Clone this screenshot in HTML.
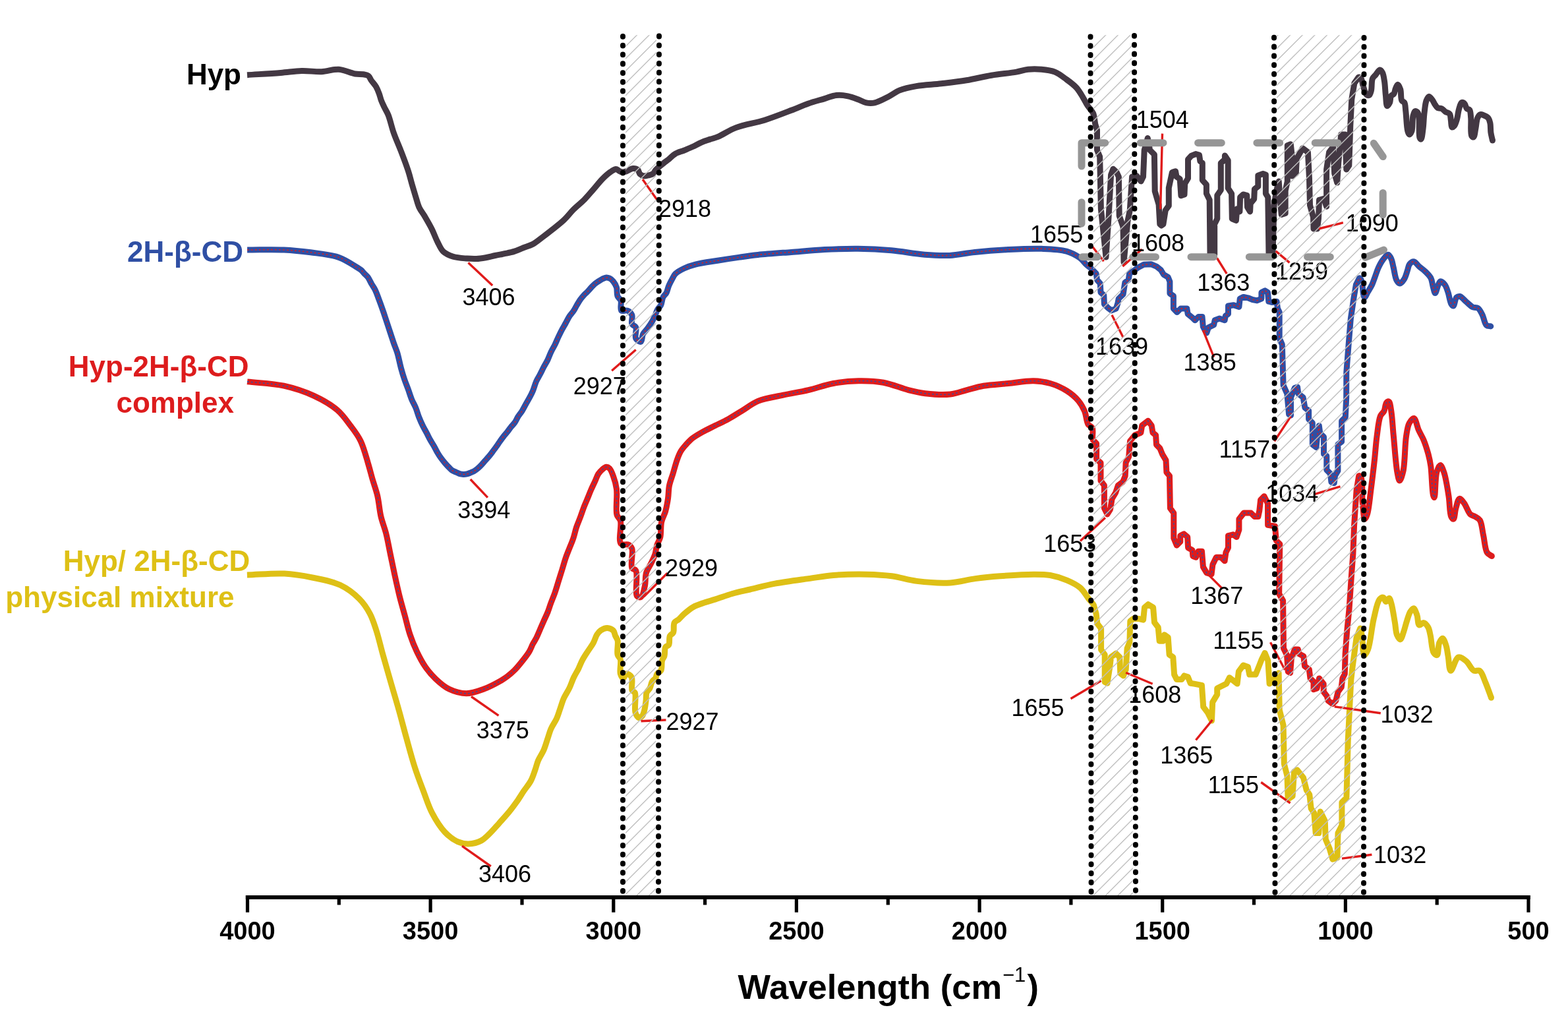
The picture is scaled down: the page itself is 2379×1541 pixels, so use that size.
<!DOCTYPE html><html><head><meta charset="utf-8"><title>FTIR spectra</title><style>html,body{margin:0;padding:0;background:#fff;}svg{display:block;}text{font-family:"Liberation Sans",Arial,sans-serif;}</style></head><body>
<svg xmlns="http://www.w3.org/2000/svg" width="2379" height="1541" viewBox="0 0 2379 1541">
<rect width="2379" height="1541" fill="#fff"/>
<path d="M375.0,113.7 C391.9,112.6 410.7,111.6 425.7,110.4 C437.6,109.5 447.2,107.8 457.7,107.5 C467.9,107.2 478.3,109.1 488.0,108.7 C497.0,108.3 505.5,104.7 514.0,105.3 C522.4,105.9 531.8,110.9 538.7,112.0 C543.5,112.8 547.6,112.2 551.2,112.8 C554.1,113.3 556.9,113.5 558.9,115.0 C560.8,116.4 561.4,119.1 563.0,121.5 C565.1,124.5 568.5,128.0 570.6,131.5 C572.6,135.0 574.1,138.9 575.4,142.5 C576.6,145.8 577.2,149.0 578.4,152.3 C579.7,155.8 581.4,159.1 583.1,162.7 C584.9,166.5 587.1,169.6 589.1,174.5 C592.0,181.6 594.2,192.8 597.4,201.8 C600.6,210.9 604.7,219.6 608.3,229.0 C612.1,238.9 616.6,250.6 619.5,259.7 C621.8,266.9 623.1,272.7 625.0,279.2 C626.9,285.7 628.9,292.5 630.8,298.7 C632.6,304.3 633.8,309.8 636.1,314.8 C638.3,319.5 641.4,323.1 644.3,327.9 C647.7,333.7 651.9,340.8 655.2,347.4 C658.4,353.8 660.7,360.9 663.8,366.8 C666.5,372.1 668.5,377.7 672.5,381.5 C676.5,385.2 682.0,387.5 687.6,389.3 C693.9,391.3 702.3,391.6 708.6,392.1 C713.8,392.5 718.1,392.7 722.8,392.5 C727.6,392.3 732.4,391.5 737.1,390.7 C741.9,389.9 746.6,388.5 751.4,387.5 C756.2,386.5 760.9,385.7 765.7,384.7 C770.5,383.7 775.3,382.9 780.0,381.4 C784.8,379.9 789.4,377.6 794.2,375.7 C798.9,373.9 803.9,372.8 808.5,370.3 C813.4,367.6 818.1,363.5 822.8,360.0 C827.4,356.6 831.5,353.4 836.4,349.5 C842.3,344.8 850.0,339.0 855.8,333.5 C861.1,328.5 864.9,323.0 870.0,317.9 C875.3,312.6 881.8,307.6 887.0,302.3 C892.0,297.2 896.2,291.9 900.8,286.7 C905.3,281.5 909.7,275.7 914.2,271.2 C918.1,267.3 922.2,263.6 925.9,261.0 C928.9,259.0 932.1,256.4 934.5,256.4 C936.3,256.4 937.4,258.2 939.0,259.0 C940.6,259.8 942.2,260.8 944.0,261.0 C945.9,261.2 947.9,260.6 950.2,259.9 C953.2,259.0 957.2,255.7 960.3,255.5 C962.9,255.3 965.9,256.0 967.7,257.5 C969.4,258.9 969.4,262.4 971.0,264.0 C972.6,265.5 975.0,266.6 977.1,266.9 C979.2,267.2 981.6,266.4 983.8,265.9 C986.1,265.3 988.7,265.0 990.5,263.6 C992.4,262.2 993.3,259.4 995.0,257.5 C996.7,255.7 998.6,254.2 1000.6,252.5 C1002.7,250.7 1005.0,248.9 1007.3,247.1 C1009.5,245.4 1011.6,243.9 1014.1,242.0 C1017.1,239.6 1020.3,235.9 1024.1,233.6 C1028.1,231.2 1033.1,230.0 1037.6,228.2 C1042.1,226.3 1046.6,224.5 1051.0,222.5 C1055.5,220.4 1059.9,217.7 1064.5,215.8 C1068.9,213.9 1073.7,212.6 1078.0,211.1 C1082.0,209.8 1084.9,209.3 1089.4,207.4 C1096.6,204.4 1106.3,197.5 1116.7,193.6 C1129.3,188.8 1145.9,186.6 1160.0,182.2 C1173.9,177.8 1188.7,171.9 1200.6,167.3 C1210.1,163.7 1217.4,160.2 1225.9,157.2 C1234.3,154.3 1243.5,151.9 1251.2,149.6 C1257.6,147.7 1262.9,145.1 1268.9,144.5 C1274.7,143.9 1281.0,144.7 1286.6,145.8 C1291.9,146.9 1297.0,149.0 1301.8,150.8 C1306.3,152.4 1310.2,155.1 1314.5,155.9 C1318.6,156.7 1322.5,156.9 1327.1,155.9 C1333.2,154.6 1340.9,150.2 1347.4,147.0 C1353.6,143.9 1358.5,139.6 1365.1,136.9 C1372.6,133.9 1381.1,132.2 1390.4,130.6 C1401.7,128.6 1415.7,128.3 1428.3,126.8 C1441.0,125.3 1453.7,123.9 1466.3,121.8 C1479.0,119.7 1491.6,116.3 1504.3,114.2 C1516.9,112.1 1532.0,110.9 1542.2,109.1 C1549.2,107.9 1553.8,106.0 1559.9,105.3 C1566.4,104.6 1573.5,104.7 1580.2,105.3 C1587.0,105.9 1594.1,106.6 1600.4,109.1 C1606.8,111.6 1612.5,116.4 1618.1,120.5 C1623.5,124.4 1629.0,128.4 1633.3,133.1 C1637.4,137.7 1640.5,143.5 1643.4,148.3 C1645.9,152.4 1647.6,156.2 1650.1,160.1 C1652.7,164.1 1656.6,167.4 1658.6,171.9 C1660.7,176.8 1660.7,184.1 1661.9,188.8 L1664.5,197.3 L1664.5,227.6 L1668.7,237.8 L1670.4,317.1 L1678.0,390.0 L1682.2,327.0 L1685.6,265.0 L1688.9,256.3 L1694.0,261.0 L1697.4,268.1 L1698.2,327.2 L1704.0,344.0 L1705.0,398.0 L1710.9,335.7 L1714.3,318.8 L1717.6,268.1 L1724.4,266.5 L1731.1,274.9 L1734.5,268.1 L1736.2,227.6 L1741.3,209.5 L1744.6,227.6 L1751.4,234.4 L1752.2,290.1 L1758.1,310.3 L1759.8,340.0 L1762.0,342.0 L1764.9,340.0 L1768.3,318.8 L1773.3,312.0 L1773.3,285.0 L1778.4,261.4 L1783.5,259.7 L1785.1,268.1 L1790.2,271.5 L1791.9,296.8 L1797.0,295.1 L1797.7,278.6 L1802.5,270.4 L1802.5,241.8 L1807.3,236.4 L1814.1,233.6 L1819.5,235.0 L1820.9,244.5 L1824.3,247.3 L1824.3,273.2 L1830.4,280.0 L1830.4,293.6 L1835.2,303.2 L1836.0,386.0 L1842.7,386.0 L1842.7,340.0 L1846.8,331.8 L1846.8,296.3 L1852.3,288.2 L1852.3,247.3 L1858.4,241.8 L1858.4,236.0 L1863.2,243.2 L1863.2,285.4 L1868.6,293.6 L1869.3,331.8 L1875.4,334.5 L1876.8,316.8 L1880.9,320.9 L1881.6,299.1 L1886.3,295.0 L1891.8,296.3 L1892.5,314.1 L1896.6,320.9 L1897.2,308.6 L1902.7,301.8 L1903.4,286.8 L1908.8,282.7 L1908.8,266.3 L1916.3,263.6 L1920.4,265.0 L1920.4,293.6 L1923.8,299.1 L1925.0,386.0 L1931.0,386.0 L1933.1,311.3 L1936.2,291.2 L1940.2,275.1 L1942.2,301.3 L1944.2,325.4 L1950.2,323.4 L1950.2,289.2 L1953.3,275.1 L1953.3,220.8 L1958.3,218.8 L1960.3,236.9 L1960.3,267.1 L1966.3,263.0 L1967.3,240.9 L1976.4,224.8 L1984.4,230.8 L1986.5,271.1 L1987.5,311.3 L1992.5,329.4 L1993.0,347.0 L1998.5,347.0 L2000.5,331.4 L2001.5,303.3 L2008.6,301.3 L2012.6,313.3 L2012.6,257.0 L2016.6,230.8 L2022.7,222.8 L2024.7,263.0 L2028.7,277.1 L2030.7,246.9 L2034.7,204.0 L2040.8,204.0 L2042.8,257.0 L2046.8,251.0 L2048.8,190.6 L2050.8,150.4 L2054.9,126.2 L2061.2,117.2 C2062.5,116.9 2064.1,118.0 2065.2,119.3 C2066.9,121.4 2066.9,126.6 2068.2,130.4 C2069.6,134.6 2071.1,141.6 2073.3,143.5 C2074.5,144.5 2076.2,145.0 2077.3,144.5 C2078.8,143.8 2079.6,140.4 2080.4,137.4 C2081.6,132.8 2080.6,123.6 2082.4,119.3 C2083.6,116.5 2085.6,115.3 2087.4,113.2 C2089.3,110.9 2091.7,106.2 2093.5,106.1 C2094.9,106.1 2096.4,108.2 2097.5,110.2 C2099.1,113.2 2099.7,118.3 2100.5,123.3 C2101.5,129.7 2101.7,138.8 2102.5,145.5 C2103.1,151.0 2103.1,160.2 2104.6,160.6 C2105.6,160.9 2107.6,157.7 2108.6,155.6 C2109.8,152.9 2109.2,147.7 2110.6,145.5 C2111.6,143.9 2113.6,144.0 2114.7,142.5 C2116.2,140.4 2116.5,135.9 2117.7,133.4 C2118.6,131.4 2119.6,128.3 2120.7,128.3 C2121.9,128.3 2123.7,132.4 2124.7,135.4 C2126.1,139.8 2125.0,149.3 2126.8,152.5 C2127.8,154.3 2129.8,153.9 2130.8,155.6 C2132.4,158.3 2132.1,163.4 2132.8,168.7 C2133.8,176.7 2134.1,193.3 2135.8,199.0 C2136.5,201.5 2137.4,203.9 2138.4,204.0 C2139.4,204.1 2141.0,201.4 2141.9,199.0 C2143.6,194.2 2142.6,181.2 2143.9,175.8 C2144.7,172.7 2145.5,169.2 2146.9,168.7 C2148.0,168.3 2150.0,169.4 2151.0,170.7 C2152.5,172.6 2152.5,176.6 2153.0,180.8 C2153.8,187.8 2152.3,205.1 2154.0,209.0 C2154.5,210.3 2155.4,211.3 2156.0,211.1 C2157.4,210.7 2158.2,201.6 2159.0,195.9 C2160.0,188.6 2160.1,178.4 2161.1,170.7 C2161.9,164.1 2162.4,156.8 2164.1,152.5 C2165.2,149.8 2166.6,146.7 2168.1,146.5 C2169.6,146.3 2171.7,149.6 2173.2,151.5 C2174.8,153.6 2175.8,156.5 2177.2,158.6 C2178.5,160.5 2179.5,162.6 2181.2,163.6 C2182.9,164.6 2185.4,163.8 2187.3,164.7 C2189.4,165.7 2191.2,168.3 2193.3,169.7 C2195.3,171.0 2198.0,170.9 2199.4,172.7 C2201.1,174.9 2200.8,179.4 2201.4,182.8 C2202.0,186.2 2201.6,192.2 2202.9,192.9 C2203.8,193.3 2205.4,192.1 2206.5,190.9 C2208.2,188.9 2209.4,184.6 2210.5,180.8 C2211.8,176.3 2212.2,170.2 2213.5,165.7 C2214.6,161.9 2215.7,156.5 2217.6,155.6 C2218.7,155.0 2220.4,155.7 2221.6,156.6 C2223.3,158.0 2223.9,163.0 2225.6,164.7 C2226.8,165.9 2228.7,165.4 2229.7,166.7 C2231.3,168.9 2231.2,173.9 2231.7,178.8 C2232.4,186.0 2230.6,202.2 2232.7,206.0 C2233.5,207.4 2234.9,208.3 2235.7,208.0 C2237.3,207.4 2237.8,200.3 2238.7,195.9 C2239.8,190.7 2240.1,182.7 2241.8,178.8 C2242.9,176.4 2244.2,174.3 2245.8,173.7 C2247.2,173.2 2249.0,174.0 2250.8,174.7 C2253.0,175.5 2256.2,176.8 2257.9,178.8 C2259.6,180.8 2260.2,183.7 2260.9,186.8 C2261.8,190.8 2261.3,196.5 2261.9,201.0 C2262.5,205.2 2263.6,209.1 2264.5,213.1" stroke="#433843" stroke-width="9.0" stroke-linejoin="round" stroke-linecap="butt" fill="none"/>
<path d="M375.1,379.0 C393.6,379.0 413.6,378.2 430.7,379.0 C445.3,379.7 457.5,381.0 471.2,382.8 C485.4,384.7 501.7,386.0 514.2,390.4 C524.8,394.1 536.1,402.1 541.9,405.6 C544.6,407.3 546.0,408.0 547.8,409.5 C549.6,411.0 551.0,413.0 552.7,414.8 C554.4,416.6 556.3,418.0 558.0,420.2 C560.1,423.1 562.0,427.5 563.9,430.9 C565.7,434.0 567.6,436.4 569.2,439.7 C571.2,443.7 572.8,448.5 574.6,453.3 C576.7,458.8 579.0,465.2 580.9,470.8 C582.7,475.9 584.1,480.3 585.8,485.4 C587.7,491.0 589.7,497.1 591.6,503.0 C593.5,508.8 595.5,514.9 597.4,520.5 C599.2,525.6 601.1,529.6 602.8,535.1 C604.9,541.9 606.5,551.3 608.5,558.5 C610.2,564.7 611.8,570.1 613.7,575.6 C615.5,580.8 617.6,585.7 619.4,590.8 C621.2,595.8 622.7,601.1 624.7,605.9 C626.6,610.4 629.0,614.2 630.8,618.6 C632.7,623.2 634.0,628.5 635.9,633.2 C637.7,637.8 639.8,642.4 641.8,646.5 C643.6,650.1 645.5,653.2 647.3,656.6 C649.2,660.1 650.9,663.9 652.8,667.3 C654.6,670.6 656.7,673.6 658.5,676.8 C660.4,680.1 662.1,683.8 664.0,687.0 C665.7,689.9 667.5,692.6 669.4,695.2 C671.2,697.7 673.1,700.0 675.0,702.2 C676.9,704.4 678.9,706.6 680.8,708.5 C682.6,710.3 684.2,712.2 686.1,713.5 C687.9,714.7 689.9,715.2 691.8,716.1 C693.7,716.9 695.6,718.1 697.5,718.6 C699.3,719.1 701.2,719.3 703.0,719.4 C704.9,719.5 706.8,719.3 708.6,718.9 C710.5,718.5 712.3,717.6 714.1,716.9 C715.9,716.1 717.8,715.4 719.6,714.4 C721.5,713.3 723.2,711.9 725.0,710.4 C726.9,708.7 728.9,706.7 730.7,704.8 C732.5,702.9 734.2,700.8 736.0,698.8 C737.9,696.7 739.9,694.5 741.8,692.3 C743.7,690.0 745.5,687.6 747.3,685.2 C749.1,682.7 751.0,680.3 752.8,677.7 C754.7,675.1 756.5,672.2 758.4,669.6 C760.2,667.0 762.0,664.5 763.9,662.1 C765.7,659.8 767.6,657.8 769.4,655.5 C771.3,653.1 773.1,650.4 775.0,648.0 C776.9,645.6 779.2,643.5 781.0,640.9 C782.9,638.2 784.2,634.8 786.0,631.9 C787.9,628.9 790.2,626.3 792.1,623.3 C794.1,620.1 795.8,616.6 797.6,613.3 C799.4,610.1 801.3,607.0 803.1,603.7 C804.9,600.4 806.6,597.4 808.2,593.6 C810.2,589.0 811.7,582.6 813.8,578.0 C815.5,574.2 817.6,571.3 819.4,567.8 C821.3,564.2 823.0,560.5 824.9,556.8 C826.8,553.1 829.2,549.5 831.0,545.7 C832.8,541.9 834.1,537.9 835.9,534.1 C837.7,530.2 840.1,526.5 842.0,522.6 C843.9,518.6 845.6,514.3 847.5,510.4 C849.3,506.6 851.1,502.9 853.0,499.4 C854.8,496.0 856.8,492.8 858.6,489.5 C860.5,486.2 862.1,482.5 864.1,479.5 C866.0,476.7 868.3,474.5 870.1,471.8 C872.0,469.0 873.4,465.9 875.1,463.0 C876.9,460.0 878.7,456.8 880.6,454.1 C882.4,451.7 884.2,449.6 886.1,447.5 C887.9,445.5 889.9,443.9 891.7,442.0 C893.6,440.0 895.3,437.9 897.2,435.9 C899.0,434.0 900.8,432.0 902.7,430.4 C904.5,428.9 906.4,427.8 908.2,426.6 C910.0,425.4 911.8,424.1 913.7,423.2 C915.6,422.3 917.9,421.1 919.8,421.0 C921.5,420.9 923.2,421.3 924.8,422.1 C926.7,423.0 928.7,424.6 930.3,426.6 C932.3,429.0 934.4,432.5 935.5,436.0 C936.7,439.9 935.5,445.7 936.9,449.2 C938.0,452.0 940.8,453.0 941.9,455.9 C943.3,459.8 940.4,468.9 942.8,471.1 C944.6,472.8 949.4,470.0 952.0,471.1 C954.7,472.2 957.6,474.9 958.8,477.8 C960.3,481.3 957.3,488.1 958.8,491.3 C959.9,493.7 963.5,493.8 964.7,496.4 C966.4,500.2 962.7,509.6 964.7,513.3 C966.2,516.0 970.5,519.0 972.3,518.3 C974.4,517.5 973.9,509.9 975.7,506.5 C977.4,503.3 980.2,501.1 982.4,498.1 C984.7,494.9 987.2,491.4 989.2,488.0 C991.1,484.7 992.7,481.1 994.2,477.8 C995.5,474.9 996.1,472.0 997.6,469.4 C999.0,466.9 1001.4,465.4 1002.7,462.7 C1004.3,459.4 1004.4,454.2 1006.0,450.9 C1007.3,448.2 1009.7,446.7 1011.1,444.1 C1012.6,441.2 1013.1,437.3 1014.5,434.0 C1015.9,430.6 1017.8,427.1 1019.5,423.9 C1021.1,420.9 1022.1,418.0 1024.6,415.4 C1027.8,412.2 1033.2,409.3 1038.1,407.0 C1043.3,404.5 1048.3,402.8 1055.0,401.1 C1064.2,398.7 1077.5,397.0 1088.7,395.2 C1099.9,393.4 1111.7,391.6 1122.4,390.1 C1132.1,388.7 1139.4,387.6 1150.0,386.5 C1164.3,385.0 1183.7,383.7 1200.6,382.4 C1217.5,381.1 1234.3,379.5 1251.2,378.6 C1268.1,377.8 1284.9,377.1 1301.8,377.3 C1318.7,377.5 1335.6,378.3 1352.4,379.8 C1369.3,381.3 1387.3,385.0 1403.0,386.2 C1416.5,387.3 1428.4,388.0 1441.0,387.4 C1453.7,386.8 1465.4,383.8 1479.0,382.4 C1494.6,380.8 1512.6,379.4 1529.5,378.6 C1546.4,377.7 1564.5,376.7 1580.2,377.3 C1593.8,377.8 1607.6,378.1 1618.1,381.1 C1626.2,383.4 1633.1,387.3 1638.4,391.2 C1642.6,394.3 1645.2,398.5 1648.2,401.3 C1650.6,403.5 1652.7,404.7 1655.0,406.8 L1663.2,415.0 L1664.5,424.5 L1669.3,430.0 L1670.0,443.6 L1674.8,447.7 L1675.4,461.3 L1680.9,466.8 L1686.3,470.9 L1693.2,468.1 L1695.9,460.0 L1697.2,453.1 L1704.1,446.3 L1706.8,428.6 L1712.2,424.5 L1713.6,415.0 L1721.8,409.5 L1727.2,405.4 L1735.4,401.3 L1746.3,400.7 L1754.5,404.1 L1761.3,409.5 L1765.4,416.3 L1772.2,420.4 L1774.9,427.2 L1774.9,445.0 L1780.4,449.0 L1780.4,468.1 L1785.8,473.6 L1791.3,468.1 L1800.8,468.1 L1802.2,476.3 L1809.0,481.8 L1813.1,485.8 L1818.5,480.4 L1824.0,480.4 L1825.3,495.4 L1828.1,500.8 L1830.8,504.9 L1833.5,496.7 L1841.7,492.7 L1843.1,485.8 L1849.9,483.1 L1858.1,485.8 L1859.4,479.0 L1863.5,476.3 L1863.5,464.0 L1871.7,462.7 L1879.9,465.4 L1881.2,453.1 L1886.7,450.4 L1893.5,451.8 L1900.3,454.5 L1907.1,455.9 L1913.9,453.1 L1913.9,443.6 L1919.4,440.9 L1923.5,443.6 L1924.8,457.2 L1930.3,458.6 L1937.1,457.2 L1938.5,468.1 L1941.2,473.6 L1941.2,513.1 L1945.3,522.6 L1947.1,584.3 L1952.8,597.1 L1955.6,628.5 L1958.5,630.0 L1958.5,602.8 L1964.2,588.6 L1968.5,587.1 L1969.9,597.1 L1977.1,602.8 L1979.9,618.5 L1985.6,622.8 L1985.6,635.7 L1991.3,641.4 L1991.3,674.2 L1997.0,678.5 L1998.5,662.8 L2001.3,645.7 L2002.8,657.1 L2008.5,662.8 L2008.5,688.5 L2012.8,691.4 L2012.8,712.8 L2018.5,718.5 L2019.9,731.3 L2024.2,732.8 L2025.6,721.3 L2029.9,714.2 L2029.9,674.2 L2035.6,669.9 L2035.6,638.5 L2041.3,632.8 L2042.7,602.8 L2042.8,564.7 L2046.0,524.1 L2049.3,483.6 L2054.1,451.1 L2057.4,431.7 L2062.3,421.9 C2063.4,421.7 2064.6,423.4 2065.5,425.2 C2067.5,429.2 2067.5,443.8 2068.8,447.9 C2069.3,449.5 2069.7,451.1 2070.4,451.1 C2071.5,451.1 2073.5,445.9 2075.2,443.0 C2077.2,439.6 2079.8,435.7 2081.7,431.7 C2083.6,427.6 2085.0,423.0 2086.6,418.7 C2088.2,414.4 2089.6,409.8 2091.5,405.7 C2093.4,401.7 2095.5,397.6 2098.0,394.3 C2100.4,391.2 2103.8,386.0 2106.1,386.2 C2108.0,386.3 2109.6,390.0 2110.9,392.7 C2112.5,396.2 2113.0,400.9 2114.2,405.7 C2115.7,411.5 2116.6,421.1 2119.0,425.2 C2120.4,427.6 2122.2,430.0 2123.9,430.0 C2125.9,430.0 2128.6,426.3 2130.4,423.5 C2132.6,420.1 2133.9,414.6 2135.3,410.6 C2136.5,407.1 2136.7,403.1 2138.5,400.8 C2140.1,398.8 2142.8,396.6 2145.0,396.8 C2147.6,397.0 2150.2,401.6 2153.1,404.1 C2156.2,406.8 2159.9,409.2 2162.9,412.2 C2165.9,415.2 2169.1,418.2 2171.0,421.9 C2172.9,425.7 2173.0,430.9 2174.2,434.9 C2175.2,438.4 2176.3,444.6 2177.5,444.6 C2178.9,444.6 2180.7,434.9 2182.3,431.7 C2183.4,429.6 2184.2,427.0 2185.6,426.8 C2187.3,426.5 2190.3,429.4 2192.1,431.7 C2194.3,434.5 2195.4,438.7 2196.9,443.0 C2198.7,448.2 2199.8,457.5 2201.8,460.9 C2202.8,462.6 2204.0,464.3 2205.0,464.1 C2206.8,463.7 2207.6,453.3 2209.9,451.1 C2211.3,449.8 2213.0,449.2 2214.8,449.5 C2217.6,450.0 2221.3,454.9 2224.5,457.6 C2227.8,460.3 2231.0,464.1 2234.3,465.7 C2237.0,467.0 2240.1,465.8 2242.4,467.4 C2245.1,469.2 2246.9,473.3 2248.9,477.1 C2251.3,481.7 2252.3,490.7 2255.3,493.3 C2257.1,494.9 2259.6,494.4 2261.8,494.9" stroke="#2F4FA4" stroke-width="9.0" stroke-linejoin="round" stroke-linecap="butt" fill="none"/>
<path d="M375.1,379.0 C393.6,379.0 413.6,378.2 430.7,379.0 C445.3,379.7 457.5,381.0 471.2,382.8 C485.4,384.7 501.7,386.0 514.2,390.4 C524.8,394.1 536.1,402.1 541.9,405.6 C544.6,407.3 546.0,408.0 547.8,409.5 C549.6,411.0 551.0,413.0 552.7,414.8 C554.4,416.6 556.3,418.0 558.0,420.2 C560.1,423.1 562.0,427.5 563.9,430.9 C565.7,434.0 567.6,436.4 569.2,439.7 C571.2,443.7 572.8,448.5 574.6,453.3 C576.7,458.8 579.0,465.2 580.9,470.8 C582.7,475.9 584.1,480.3 585.8,485.4 C587.7,491.0 589.7,497.1 591.6,503.0 C593.5,508.8 595.5,514.9 597.4,520.5 C599.2,525.6 601.1,529.6 602.8,535.1 C604.9,541.9 606.5,551.3 608.5,558.5 C610.2,564.7 611.8,570.1 613.7,575.6 C615.5,580.8 617.6,585.7 619.4,590.8 C621.2,595.8 622.7,601.1 624.7,605.9 C626.6,610.4 629.0,614.2 630.8,618.6 C632.7,623.2 634.0,628.5 635.9,633.2 C637.7,637.8 639.8,642.4 641.8,646.5 C643.6,650.1 645.5,653.2 647.3,656.6 C649.2,660.1 650.9,663.9 652.8,667.3 C654.6,670.6 656.7,673.6 658.5,676.8 C660.4,680.1 662.1,683.8 664.0,687.0 C665.7,689.9 667.5,692.6 669.4,695.2 C671.2,697.7 673.1,700.0 675.0,702.2 C676.9,704.4 678.9,706.6 680.8,708.5 C682.6,710.3 684.2,712.2 686.1,713.5 C687.9,714.7 689.9,715.2 691.8,716.1 C693.7,716.9 695.6,718.1 697.5,718.6 C699.3,719.1 701.2,719.3 703.0,719.4 C704.9,719.5 706.8,719.3 708.6,718.9 C710.5,718.5 712.3,717.6 714.1,716.9 C715.9,716.1 717.8,715.4 719.6,714.4 C721.5,713.3 723.2,711.9 725.0,710.4 C726.9,708.7 728.9,706.7 730.7,704.8 C732.5,702.9 734.2,700.8 736.0,698.8 C737.9,696.7 739.9,694.5 741.8,692.3 C743.7,690.0 745.5,687.6 747.3,685.2 C749.1,682.7 751.0,680.3 752.8,677.7 C754.7,675.1 756.5,672.2 758.4,669.6 C760.2,667.0 762.0,664.5 763.9,662.1 C765.7,659.8 767.6,657.8 769.4,655.5 C771.3,653.1 773.1,650.4 775.0,648.0 C776.9,645.6 779.2,643.5 781.0,640.9 C782.9,638.2 784.2,634.8 786.0,631.9 C787.9,628.9 790.2,626.3 792.1,623.3 C794.1,620.1 795.8,616.6 797.6,613.3 C799.4,610.1 801.3,607.0 803.1,603.7 C804.9,600.4 806.6,597.4 808.2,593.6 C810.2,589.0 811.7,582.6 813.8,578.0 C815.5,574.2 817.6,571.3 819.4,567.8 C821.3,564.2 823.0,560.5 824.9,556.8 C826.8,553.1 829.2,549.5 831.0,545.7 C832.8,541.9 834.1,537.9 835.9,534.1 C837.7,530.2 840.1,526.5 842.0,522.6 C843.9,518.6 845.6,514.3 847.5,510.4 C849.3,506.6 851.1,502.9 853.0,499.4 C854.8,496.0 856.8,492.8 858.6,489.5 C860.5,486.2 862.1,482.5 864.1,479.5 C866.0,476.7 868.3,474.5 870.1,471.8 C872.0,469.0 873.4,465.9 875.1,463.0 C876.9,460.0 878.7,456.8 880.6,454.1 C882.4,451.7 884.2,449.6 886.1,447.5 C887.9,445.5 889.9,443.9 891.7,442.0 C893.6,440.0 895.3,437.9 897.2,435.9 C899.0,434.0 900.8,432.0 902.7,430.4 C904.5,428.9 906.4,427.8 908.2,426.6 C910.0,425.4 911.8,424.1 913.7,423.2 C915.6,422.3 917.9,421.1 919.8,421.0 C921.5,420.9 923.2,421.3 924.8,422.1 C926.7,423.0 928.7,424.6 930.3,426.6 C932.3,429.0 934.4,432.5 935.5,436.0 C936.7,439.9 935.5,445.7 936.9,449.2 C938.0,452.0 940.8,453.0 941.9,455.9 C943.3,459.8 940.4,468.9 942.8,471.1 C944.6,472.8 949.4,470.0 952.0,471.1 C954.7,472.2 957.6,474.9 958.8,477.8 C960.3,481.3 957.3,488.1 958.8,491.3 C959.9,493.7 963.5,493.8 964.7,496.4 C966.4,500.2 962.7,509.6 964.7,513.3 C966.2,516.0 970.5,519.0 972.3,518.3 C974.4,517.5 973.9,509.9 975.7,506.5 C977.4,503.3 980.2,501.1 982.4,498.1 C984.7,494.9 987.2,491.4 989.2,488.0 C991.1,484.7 992.7,481.1 994.2,477.8 C995.5,474.9 996.1,472.0 997.6,469.4 C999.0,466.9 1001.4,465.4 1002.7,462.7 C1004.3,459.4 1004.4,454.2 1006.0,450.9 C1007.3,448.2 1009.7,446.7 1011.1,444.1 C1012.6,441.2 1013.1,437.3 1014.5,434.0 C1015.9,430.6 1017.8,427.1 1019.5,423.9 C1021.1,420.9 1022.1,418.0 1024.6,415.4 C1027.8,412.2 1033.2,409.3 1038.1,407.0 C1043.3,404.5 1048.3,402.8 1055.0,401.1 C1064.2,398.7 1077.5,397.0 1088.7,395.2 C1099.9,393.4 1111.7,391.6 1122.4,390.1 C1132.1,388.7 1139.4,387.6 1150.0,386.5 C1164.3,385.0 1183.7,383.7 1200.6,382.4 C1217.5,381.1 1234.3,379.5 1251.2,378.6 C1268.1,377.8 1284.9,377.1 1301.8,377.3 C1318.7,377.5 1335.6,378.3 1352.4,379.8 C1369.3,381.3 1387.3,385.0 1403.0,386.2 C1416.5,387.3 1428.4,388.0 1441.0,387.4 C1453.7,386.8 1465.4,383.8 1479.0,382.4 C1494.6,380.8 1512.6,379.4 1529.5,378.6 C1546.4,377.7 1564.5,376.7 1580.2,377.3 C1593.8,377.8 1607.6,378.1 1618.1,381.1 C1626.2,383.4 1633.1,387.3 1638.4,391.2 C1642.6,394.3 1645.2,398.5 1648.2,401.3 C1650.6,403.5 1652.7,404.7 1655.0,406.8 L1663.2,415.0 L1664.5,424.5 L1669.3,430.0 L1670.0,443.6 L1674.8,447.7 L1675.4,461.3 L1680.9,466.8 L1686.3,470.9 L1693.2,468.1 L1695.9,460.0 L1697.2,453.1 L1704.1,446.3 L1706.8,428.6 L1712.2,424.5 L1713.6,415.0 L1721.8,409.5 L1727.2,405.4 L1735.4,401.3 L1746.3,400.7 L1754.5,404.1 L1761.3,409.5 L1765.4,416.3 L1772.2,420.4 L1774.9,427.2 L1774.9,445.0 L1780.4,449.0 L1780.4,468.1 L1785.8,473.6 L1791.3,468.1 L1800.8,468.1 L1802.2,476.3 L1809.0,481.8 L1813.1,485.8 L1818.5,480.4 L1824.0,480.4 L1825.3,495.4 L1828.1,500.8 L1830.8,504.9 L1833.5,496.7 L1841.7,492.7 L1843.1,485.8 L1849.9,483.1 L1858.1,485.8 L1859.4,479.0 L1863.5,476.3 L1863.5,464.0 L1871.7,462.7 L1879.9,465.4 L1881.2,453.1 L1886.7,450.4 L1893.5,451.8 L1900.3,454.5 L1907.1,455.9 L1913.9,453.1 L1913.9,443.6 L1919.4,440.9 L1923.5,443.6 L1924.8,457.2 L1930.3,458.6 L1937.1,457.2 L1938.5,468.1 L1941.2,473.6 L1941.2,513.1 L1945.3,522.6 L1947.1,584.3 L1952.8,597.1 L1955.6,628.5 L1958.5,630.0 L1958.5,602.8 L1964.2,588.6 L1968.5,587.1 L1969.9,597.1 L1977.1,602.8 L1979.9,618.5 L1985.6,622.8 L1985.6,635.7 L1991.3,641.4 L1991.3,674.2 L1997.0,678.5 L1998.5,662.8 L2001.3,645.7 L2002.8,657.1 L2008.5,662.8 L2008.5,688.5 L2012.8,691.4 L2012.8,712.8 L2018.5,718.5 L2019.9,731.3 L2024.2,732.8 L2025.6,721.3 L2029.9,714.2 L2029.9,674.2 L2035.6,669.9 L2035.6,638.5 L2041.3,632.8 L2042.7,602.8 L2042.8,564.7 L2046.0,524.1 L2049.3,483.6 L2054.1,451.1 L2057.4,431.7 L2062.3,421.9 C2063.4,421.7 2064.6,423.4 2065.5,425.2 C2067.5,429.2 2067.5,443.8 2068.8,447.9 C2069.3,449.5 2069.7,451.1 2070.4,451.1 C2071.5,451.1 2073.5,445.9 2075.2,443.0 C2077.2,439.6 2079.8,435.7 2081.7,431.7 C2083.6,427.6 2085.0,423.0 2086.6,418.7 C2088.2,414.4 2089.6,409.8 2091.5,405.7 C2093.4,401.7 2095.5,397.6 2098.0,394.3 C2100.4,391.2 2103.8,386.0 2106.1,386.2 C2108.0,386.3 2109.6,390.0 2110.9,392.7 C2112.5,396.2 2113.0,400.9 2114.2,405.7 C2115.7,411.5 2116.6,421.1 2119.0,425.2 C2120.4,427.6 2122.2,430.0 2123.9,430.0 C2125.9,430.0 2128.6,426.3 2130.4,423.5 C2132.6,420.1 2133.9,414.6 2135.3,410.6 C2136.5,407.1 2136.7,403.1 2138.5,400.8 C2140.1,398.8 2142.8,396.6 2145.0,396.8 C2147.6,397.0 2150.2,401.6 2153.1,404.1 C2156.2,406.8 2159.9,409.2 2162.9,412.2 C2165.9,415.2 2169.1,418.2 2171.0,421.9 C2172.9,425.7 2173.0,430.9 2174.2,434.9 C2175.2,438.4 2176.3,444.6 2177.5,444.6 C2178.9,444.6 2180.7,434.9 2182.3,431.7 C2183.4,429.6 2184.2,427.0 2185.6,426.8 C2187.3,426.5 2190.3,429.4 2192.1,431.7 C2194.3,434.5 2195.4,438.7 2196.9,443.0 C2198.7,448.2 2199.8,457.5 2201.8,460.9 C2202.8,462.6 2204.0,464.3 2205.0,464.1 C2206.8,463.7 2207.6,453.3 2209.9,451.1 C2211.3,449.8 2213.0,449.2 2214.8,449.5 C2217.6,450.0 2221.3,454.9 2224.5,457.6 C2227.8,460.3 2231.0,464.1 2234.3,465.7 C2237.0,467.0 2240.1,465.8 2242.4,467.4 C2245.1,469.2 2246.9,473.3 2248.9,477.1 C2251.3,481.7 2252.3,490.7 2255.3,493.3 C2257.1,494.9 2259.6,494.4 2261.8,494.9" stroke="#DD1C1D" stroke-width="1.6" stroke-dasharray="2.5 3.5" fill="none"/>
<path d="M375.1,578.9 C393.6,581.0 413.3,581.4 430.7,585.2 C446.9,588.8 462.4,594.0 476.3,600.4 C489.2,606.4 502.1,613.7 511.7,621.9 C520.1,629.1 525.9,637.8 532.0,645.9 C537.7,653.4 542.9,660.0 547.1,668.7 C551.9,678.6 555.3,692.3 558.4,702.6 C561.0,711.1 562.6,718.0 564.9,726.0 C567.3,734.4 570.6,742.8 572.7,751.9 C575.0,761.7 575.6,773.3 577.9,783.1 C580.0,792.2 583.4,799.9 585.7,809.0 C588.2,818.9 590.0,829.8 592.2,840.2 C594.4,850.6 596.4,860.7 598.7,871.3 C601.1,882.3 603.7,894.3 606.4,905.1 C608.9,915.0 611.6,924.1 614.2,933.6 C616.8,943.1 618.9,953.0 622.0,962.2 C625.0,971.2 628.4,979.9 632.4,988.2 C636.3,996.3 640.5,1004.4 645.4,1011.5 C650.1,1018.2 655.1,1024.2 661.0,1029.7 C667.1,1035.5 674.0,1041.6 681.7,1045.3 C689.5,1049.0 699.0,1051.8 707.7,1051.8 C716.3,1051.8 725.1,1048.4 733.6,1045.3 C742.4,1042.1 753.1,1036.3 759.6,1032.6 C763.8,1030.2 766.3,1028.5 769.6,1026.0 C773.3,1023.2 777.1,1020.0 780.7,1016.4 C784.5,1012.6 788.1,1008.1 791.7,1003.6 C795.5,998.9 799.9,993.4 802.8,988.6 C805.2,984.6 806.5,980.5 808.4,976.8 C810.2,973.4 812.1,970.8 813.9,967.3 C815.9,963.3 817.7,958.5 819.6,954.2 C821.4,950.0 823.1,946.0 825.0,941.8 C826.9,937.4 829.2,933.0 831.0,928.5 C832.8,923.9 834.1,919.3 835.9,914.5 C837.8,909.4 840.0,904.3 841.9,898.9 C843.9,893.3 845.6,887.2 847.4,881.4 C849.2,875.7 850.9,870.2 852.7,864.5 C854.5,858.6 856.2,852.3 858.1,846.7 C859.8,841.6 861.7,837.2 863.6,832.3 C865.6,827.2 867.9,822.3 869.7,816.9 C871.6,811.3 872.8,804.9 874.7,799.3 C876.5,793.9 878.8,789.0 880.7,783.8 C882.6,778.7 884.3,773.3 886.2,768.4 C888.0,763.8 890.0,759.4 891.8,755.1 C893.5,751.0 894.9,747.1 896.7,743.0 C898.6,738.7 900.9,734.0 902.8,729.8 C904.6,725.9 905.8,721.8 907.8,718.7 C909.5,716.1 911.7,713.9 913.8,712.1 C915.7,710.5 917.9,708.4 919.9,708.3 C921.6,708.2 923.3,709.1 924.8,710.5 C927.1,712.7 928.8,717.6 930.4,722.1 C932.5,727.8 934.5,734.2 935.5,742.0 C936.9,752.8 933.7,772.8 936.0,781.0 C937.2,785.3 940.2,785.8 941.4,790.0 C943.6,797.6 937.7,819.5 942.0,824.5 C944.6,827.5 951.2,824.7 954.1,826.4 C956.4,827.7 957.8,829.3 958.9,832.3 C961.0,838.1 956.2,856.5 958.9,861.5 C960.2,864.0 963.3,862.8 964.8,865.4 C968.2,871.4 962.9,900.0 966.7,904.3 C968.2,906.0 970.9,906.3 972.6,905.3 C975.4,903.6 977.1,894.5 978.4,888.7 C979.8,882.6 978.7,875.3 980.4,869.3 C982.0,863.7 985.9,858.8 988.2,853.7 C990.4,849.0 992.5,844.7 994.0,840.1 C995.4,835.6 995.5,830.7 996.9,826.4 C998.2,822.3 1000.7,819.4 1001.8,814.7 C1003.3,808.4 1002.1,798.3 1003.7,791.4 C1005.0,785.6 1008.0,781.4 1009.6,775.8 C1011.3,769.7 1012.5,762.8 1013.5,756.3 C1014.5,749.8 1014.1,743.2 1015.4,736.8 C1016.7,730.3 1019.4,723.9 1021.3,717.4 C1023.3,710.9 1025.0,703.8 1027.1,697.9 C1028.9,692.9 1030.6,688.3 1033.0,684.3 C1035.2,680.6 1037.9,677.7 1040.7,674.5 C1043.7,671.2 1046.7,667.8 1050.5,664.8 C1054.9,661.3 1060.5,658.2 1066.0,655.1 C1072.1,651.7 1079.0,648.6 1085.5,645.3 C1092.0,642.1 1098.5,639.2 1105.0,635.6 C1111.8,631.9 1118.2,627.6 1125.3,623.3 C1133.3,618.5 1141.0,612.0 1150.6,608.1 C1161.7,603.6 1175.9,602.0 1188.6,599.2 C1201.2,596.5 1213.9,594.5 1226.5,591.6 C1239.2,588.6 1251.7,583.8 1264.5,581.5 C1277.1,579.2 1289.7,577.9 1302.4,577.7 C1315.0,577.5 1327.9,577.9 1340.4,580.2 C1353.2,582.5 1366.9,588.7 1378.3,591.6 C1387.5,593.9 1394.3,595.6 1403.6,596.7 C1414.9,598.0 1430.3,599.2 1441.6,598.0 C1451.0,597.0 1458.5,593.7 1466.9,591.6 C1475.3,589.5 1482.8,586.9 1492.2,585.3 C1503.5,583.3 1517.5,582.8 1530.2,581.5 C1542.8,580.2 1556.8,577.4 1568.1,577.7 C1577.4,577.9 1585.1,579.1 1593.4,581.5 C1602.0,584.0 1611.3,588.2 1618.7,592.9 C1625.5,597.2 1631.8,602.6 1636.4,608.1 C1640.4,612.9 1643.1,617.9 1645.5,623.6 C1648.1,629.7 1648.2,639.2 1650.9,643.6 C1652.6,646.4 1655.9,646.3 1657.3,649.1 C1659.3,653.1 1656.4,663.1 1658.2,667.2 L1663.6,672.7 L1663.6,696.3 L1670.0,701.8 L1670.0,729.0 L1675.4,736.3 L1675.4,770.8 L1680.0,779.9 L1684.5,772.6 L1687.2,756.3 L1692.7,747.2 L1696.3,736.3 L1703.6,730.8 L1707.2,721.8 L1708.1,701.8 L1712.7,692.7 L1714.5,669.1 L1721.8,660.0 L1730.9,656.3 L1732.7,645.4 L1741.8,638.2 L1747.2,645.4 L1749.0,656.3 L1753.6,660.0 L1754.5,674.5 L1759.9,680.0 L1763.6,689.1 L1769.0,698.1 L1769.9,716.3 L1774.5,721.8 L1775.4,770.8 L1780.8,778.1 L1780.8,816.3 L1785.4,827.2 L1790.8,821.7 L1790.8,812.6 L1796.3,809.9 L1801.7,814.4 L1802.6,830.8 L1809.0,834.4 L1809.9,843.5 L1814.5,845.3 L1818.1,836.3 L1823.5,836.3 L1825.4,859.9 L1830.8,869.0 L1838.1,870.8 L1839.9,856.2 L1845.3,845.3 L1852.6,845.3 L1858.1,850.8 L1859.9,838.1 L1863.5,830.8 L1863.5,812.6 L1870.8,810.8 L1876.2,814.4 L1879.9,803.5 L1879.9,787.2 L1887.1,778.1 L1898.0,778.1 L1903.5,783.5 L1908.9,783.5 L1910.8,774.5 L1912.6,758.1 L1918.0,752.7 L1923.5,763.6 L1923.6,796.2 L1934.5,798.1 L1936.3,819.9 L1941.8,825.3 L1940.7,900.7 L1946.6,910.9 L1947.5,983.4 L1952.5,993.5 L1954.2,1018.8 L1957.6,1020.5 L1959.3,998.6 L1964.3,985.1 L1969.4,985.1 L1971.1,991.8 L1977.8,995.2 L1979.5,1010.4 L1986.3,1015.4 L1988.0,1028.9 L1993.0,1034.0 L1993.0,1045.8 L1998.1,1044.1 L2001.5,1028.9 L2008.2,1037.4 L2008.2,1049.2 L2013.3,1055.9 L2015.0,1062.7 L2021.7,1067.7 L2026.8,1062.7 L2030.1,1049.2 L2035.2,1042.4 L2036.9,1028.9 L2040.3,1022.2 L2041.1,991.8 L2043.6,958.1 L2047.0,924.3 L2048.7,899.0 L2050.4,873.7 L2052.9,840.0 L2054.5,798.1 L2058.1,743.5 L2061.7,721.7 C2062.7,721.4 2064.4,723.2 2065.4,725.4 C2067.9,731.1 2066.2,750.7 2067.2,761.7 C2068.1,771.0 2069.0,786.9 2070.8,787.2 C2071.8,787.4 2073.4,783.4 2074.5,779.9 C2076.9,772.5 2078.2,756.3 2079.9,743.5 C2081.8,729.2 2083.8,712.4 2085.4,698.1 C2086.8,685.3 2087.4,673.4 2089.0,661.8 C2090.5,651.1 2091.6,637.4 2094.4,630.9 C2095.9,627.4 2098.4,626.5 2099.9,623.6 C2101.6,620.1 2101.7,613.1 2103.5,610.9 C2104.5,609.7 2106.2,608.6 2107.2,609.1 C2109.2,610.0 2109.8,617.6 2110.8,623.6 C2112.4,633.3 2113.0,647.9 2114.4,661.8 C2116.0,678.4 2117.7,704.5 2119.9,716.3 C2121.0,722.1 2122.1,728.9 2123.5,729.0 C2125.1,729.1 2127.5,721.0 2129.0,714.5 C2131.7,702.5 2131.4,675.1 2133.5,661.8 C2134.8,653.5 2135.5,646.6 2138.1,641.8 C2140.0,638.4 2143.2,634.1 2145.3,634.5 C2148.2,635.1 2150.0,647.0 2152.6,652.7 C2154.9,657.9 2157.7,661.8 2159.9,667.2 C2162.6,673.6 2165.2,682.0 2167.1,689.0 C2168.8,695.3 2169.7,699.8 2170.8,707.2 C2172.4,718.6 2172.6,744.3 2174.4,750.8 C2174.9,752.8 2175.7,754.6 2176.2,754.5 C2177.9,754.2 2177.3,725.0 2179.8,716.3 C2181.2,711.4 2183.5,705.4 2185.3,705.4 C2187.1,705.4 2189.1,711.5 2190.8,716.3 C2193.7,724.7 2196.2,741.0 2198.0,752.6 C2199.7,763.3 2199.2,778.4 2201.7,783.5 C2202.7,785.6 2204.3,787.5 2205.3,787.2 C2207.1,786.7 2207.3,776.0 2208.9,770.8 C2210.4,765.8 2211.9,756.8 2214.4,756.3 C2216.4,755.9 2219.3,760.4 2221.6,763.5 C2224.8,767.7 2227.3,776.6 2230.7,779.9 C2233.0,782.1 2235.6,782.0 2238.0,783.5 C2240.5,785.0 2243.4,786.0 2245.3,789.0 C2248.4,793.8 2248.9,804.6 2250.7,812.6 C2252.5,820.9 2253.0,832.9 2256.2,838.0 C2258.1,841.0 2261.0,841.7 2263.4,843.5" stroke="#DD1C1D" stroke-width="9.0" stroke-linejoin="round" stroke-linecap="butt" fill="none"/>
<path d="M375.1,578.9 C393.6,581.0 413.3,581.4 430.7,585.2 C446.9,588.8 462.4,594.0 476.3,600.4 C489.2,606.4 502.1,613.7 511.7,621.9 C520.1,629.1 525.9,637.8 532.0,645.9 C537.7,653.4 542.9,660.0 547.1,668.7 C551.9,678.6 555.3,692.3 558.4,702.6 C561.0,711.1 562.6,718.0 564.9,726.0 C567.3,734.4 570.6,742.8 572.7,751.9 C575.0,761.7 575.6,773.3 577.9,783.1 C580.0,792.2 583.4,799.9 585.7,809.0 C588.2,818.9 590.0,829.8 592.2,840.2 C594.4,850.6 596.4,860.7 598.7,871.3 C601.1,882.3 603.7,894.3 606.4,905.1 C608.9,915.0 611.6,924.1 614.2,933.6 C616.8,943.1 618.9,953.0 622.0,962.2 C625.0,971.2 628.4,979.9 632.4,988.2 C636.3,996.3 640.5,1004.4 645.4,1011.5 C650.1,1018.2 655.1,1024.2 661.0,1029.7 C667.1,1035.5 674.0,1041.6 681.7,1045.3 C689.5,1049.0 699.0,1051.8 707.7,1051.8 C716.3,1051.8 725.1,1048.4 733.6,1045.3 C742.4,1042.1 753.1,1036.3 759.6,1032.6 C763.8,1030.2 766.3,1028.5 769.6,1026.0 C773.3,1023.2 777.1,1020.0 780.7,1016.4 C784.5,1012.6 788.1,1008.1 791.7,1003.6 C795.5,998.9 799.9,993.4 802.8,988.6 C805.2,984.6 806.5,980.5 808.4,976.8 C810.2,973.4 812.1,970.8 813.9,967.3 C815.9,963.3 817.7,958.5 819.6,954.2 C821.4,950.0 823.1,946.0 825.0,941.8 C826.9,937.4 829.2,933.0 831.0,928.5 C832.8,923.9 834.1,919.3 835.9,914.5 C837.8,909.4 840.0,904.3 841.9,898.9 C843.9,893.3 845.6,887.2 847.4,881.4 C849.2,875.7 850.9,870.2 852.7,864.5 C854.5,858.6 856.2,852.3 858.1,846.7 C859.8,841.6 861.7,837.2 863.6,832.3 C865.6,827.2 867.9,822.3 869.7,816.9 C871.6,811.3 872.8,804.9 874.7,799.3 C876.5,793.9 878.8,789.0 880.7,783.8 C882.6,778.7 884.3,773.3 886.2,768.4 C888.0,763.8 890.0,759.4 891.8,755.1 C893.5,751.0 894.9,747.1 896.7,743.0 C898.6,738.7 900.9,734.0 902.8,729.8 C904.6,725.9 905.8,721.8 907.8,718.7 C909.5,716.1 911.7,713.9 913.8,712.1 C915.7,710.5 917.9,708.4 919.9,708.3 C921.6,708.2 923.3,709.1 924.8,710.5 C927.1,712.7 928.8,717.6 930.4,722.1 C932.5,727.8 934.5,734.2 935.5,742.0 C936.9,752.8 933.7,772.8 936.0,781.0 C937.2,785.3 940.2,785.8 941.4,790.0 C943.6,797.6 937.7,819.5 942.0,824.5 C944.6,827.5 951.2,824.7 954.1,826.4 C956.4,827.7 957.8,829.3 958.9,832.3 C961.0,838.1 956.2,856.5 958.9,861.5 C960.2,864.0 963.3,862.8 964.8,865.4 C968.2,871.4 962.9,900.0 966.7,904.3 C968.2,906.0 970.9,906.3 972.6,905.3 C975.4,903.6 977.1,894.5 978.4,888.7 C979.8,882.6 978.7,875.3 980.4,869.3 C982.0,863.7 985.9,858.8 988.2,853.7 C990.4,849.0 992.5,844.7 994.0,840.1 C995.4,835.6 995.5,830.7 996.9,826.4 C998.2,822.3 1000.7,819.4 1001.8,814.7 C1003.3,808.4 1002.1,798.3 1003.7,791.4 C1005.0,785.6 1008.0,781.4 1009.6,775.8 C1011.3,769.7 1012.5,762.8 1013.5,756.3 C1014.5,749.8 1014.1,743.2 1015.4,736.8 C1016.7,730.3 1019.4,723.9 1021.3,717.4 C1023.3,710.9 1025.0,703.8 1027.1,697.9 C1028.9,692.9 1030.6,688.3 1033.0,684.3 C1035.2,680.6 1037.9,677.7 1040.7,674.5 C1043.7,671.2 1046.7,667.8 1050.5,664.8 C1054.9,661.3 1060.5,658.2 1066.0,655.1 C1072.1,651.7 1079.0,648.6 1085.5,645.3 C1092.0,642.1 1098.5,639.2 1105.0,635.6 C1111.8,631.9 1118.2,627.6 1125.3,623.3 C1133.3,618.5 1141.0,612.0 1150.6,608.1 C1161.7,603.6 1175.9,602.0 1188.6,599.2 C1201.2,596.5 1213.9,594.5 1226.5,591.6 C1239.2,588.6 1251.7,583.8 1264.5,581.5 C1277.1,579.2 1289.7,577.9 1302.4,577.7 C1315.0,577.5 1327.9,577.9 1340.4,580.2 C1353.2,582.5 1366.9,588.7 1378.3,591.6 C1387.5,593.9 1394.3,595.6 1403.6,596.7 C1414.9,598.0 1430.3,599.2 1441.6,598.0 C1451.0,597.0 1458.5,593.7 1466.9,591.6 C1475.3,589.5 1482.8,586.9 1492.2,585.3 C1503.5,583.3 1517.5,582.8 1530.2,581.5 C1542.8,580.2 1556.8,577.4 1568.1,577.7 C1577.4,577.9 1585.1,579.1 1593.4,581.5 C1602.0,584.0 1611.3,588.2 1618.7,592.9 C1625.5,597.2 1631.8,602.6 1636.4,608.1 C1640.4,612.9 1643.1,617.9 1645.5,623.6 C1648.1,629.7 1648.2,639.2 1650.9,643.6 C1652.6,646.4 1655.9,646.3 1657.3,649.1 C1659.3,653.1 1656.4,663.1 1658.2,667.2 L1663.6,672.7 L1663.6,696.3 L1670.0,701.8 L1670.0,729.0 L1675.4,736.3 L1675.4,770.8 L1680.0,779.9 L1684.5,772.6 L1687.2,756.3 L1692.7,747.2 L1696.3,736.3 L1703.6,730.8 L1707.2,721.8 L1708.1,701.8 L1712.7,692.7 L1714.5,669.1 L1721.8,660.0 L1730.9,656.3 L1732.7,645.4 L1741.8,638.2 L1747.2,645.4 L1749.0,656.3 L1753.6,660.0 L1754.5,674.5 L1759.9,680.0 L1763.6,689.1 L1769.0,698.1 L1769.9,716.3 L1774.5,721.8 L1775.4,770.8 L1780.8,778.1 L1780.8,816.3 L1785.4,827.2 L1790.8,821.7 L1790.8,812.6 L1796.3,809.9 L1801.7,814.4 L1802.6,830.8 L1809.0,834.4 L1809.9,843.5 L1814.5,845.3 L1818.1,836.3 L1823.5,836.3 L1825.4,859.9 L1830.8,869.0 L1838.1,870.8 L1839.9,856.2 L1845.3,845.3 L1852.6,845.3 L1858.1,850.8 L1859.9,838.1 L1863.5,830.8 L1863.5,812.6 L1870.8,810.8 L1876.2,814.4 L1879.9,803.5 L1879.9,787.2 L1887.1,778.1 L1898.0,778.1 L1903.5,783.5 L1908.9,783.5 L1910.8,774.5 L1912.6,758.1 L1918.0,752.7 L1923.5,763.6 L1923.6,796.2 L1934.5,798.1 L1936.3,819.9 L1941.8,825.3 L1940.7,900.7 L1946.6,910.9 L1947.5,983.4 L1952.5,993.5 L1954.2,1018.8 L1957.6,1020.5 L1959.3,998.6 L1964.3,985.1 L1969.4,985.1 L1971.1,991.8 L1977.8,995.2 L1979.5,1010.4 L1986.3,1015.4 L1988.0,1028.9 L1993.0,1034.0 L1993.0,1045.8 L1998.1,1044.1 L2001.5,1028.9 L2008.2,1037.4 L2008.2,1049.2 L2013.3,1055.9 L2015.0,1062.7 L2021.7,1067.7 L2026.8,1062.7 L2030.1,1049.2 L2035.2,1042.4 L2036.9,1028.9 L2040.3,1022.2 L2041.1,991.8 L2043.6,958.1 L2047.0,924.3 L2048.7,899.0 L2050.4,873.7 L2052.9,840.0 L2054.5,798.1 L2058.1,743.5 L2061.7,721.7 C2062.7,721.4 2064.4,723.2 2065.4,725.4 C2067.9,731.1 2066.2,750.7 2067.2,761.7 C2068.1,771.0 2069.0,786.9 2070.8,787.2 C2071.8,787.4 2073.4,783.4 2074.5,779.9 C2076.9,772.5 2078.2,756.3 2079.9,743.5 C2081.8,729.2 2083.8,712.4 2085.4,698.1 C2086.8,685.3 2087.4,673.4 2089.0,661.8 C2090.5,651.1 2091.6,637.4 2094.4,630.9 C2095.9,627.4 2098.4,626.5 2099.9,623.6 C2101.6,620.1 2101.7,613.1 2103.5,610.9 C2104.5,609.7 2106.2,608.6 2107.2,609.1 C2109.2,610.0 2109.8,617.6 2110.8,623.6 C2112.4,633.3 2113.0,647.9 2114.4,661.8 C2116.0,678.4 2117.7,704.5 2119.9,716.3 C2121.0,722.1 2122.1,728.9 2123.5,729.0 C2125.1,729.1 2127.5,721.0 2129.0,714.5 C2131.7,702.5 2131.4,675.1 2133.5,661.8 C2134.8,653.5 2135.5,646.6 2138.1,641.8 C2140.0,638.4 2143.2,634.1 2145.3,634.5 C2148.2,635.1 2150.0,647.0 2152.6,652.7 C2154.9,657.9 2157.7,661.8 2159.9,667.2 C2162.6,673.6 2165.2,682.0 2167.1,689.0 C2168.8,695.3 2169.7,699.8 2170.8,707.2 C2172.4,718.6 2172.6,744.3 2174.4,750.8 C2174.9,752.8 2175.7,754.6 2176.2,754.5 C2177.9,754.2 2177.3,725.0 2179.8,716.3 C2181.2,711.4 2183.5,705.4 2185.3,705.4 C2187.1,705.4 2189.1,711.5 2190.8,716.3 C2193.7,724.7 2196.2,741.0 2198.0,752.6 C2199.7,763.3 2199.2,778.4 2201.7,783.5 C2202.7,785.6 2204.3,787.5 2205.3,787.2 C2207.1,786.7 2207.3,776.0 2208.9,770.8 C2210.4,765.8 2211.9,756.8 2214.4,756.3 C2216.4,755.9 2219.3,760.4 2221.6,763.5 C2224.8,767.7 2227.3,776.6 2230.7,779.9 C2233.0,782.1 2235.6,782.0 2238.0,783.5 C2240.5,785.0 2243.4,786.0 2245.3,789.0 C2248.4,793.8 2248.9,804.6 2250.7,812.6 C2252.5,820.9 2253.0,832.9 2256.2,838.0 C2258.1,841.0 2261.0,841.7 2263.4,843.5" stroke="#2F4FA4" stroke-width="1.6" stroke-dasharray="2.5 3.5" fill="none"/>
<path d="M374.9,872.1 C393.8,871.4 414.1,869.2 431.6,870.1 C446.7,870.9 459.8,873.2 473.8,876.0 C488.0,878.9 503.7,881.4 516.0,887.3 C527.2,892.6 537.4,900.5 545.2,908.4 C552.1,915.3 557.1,923.0 561.4,931.1 C565.7,939.2 568.1,947.7 571.2,957.1 C574.7,968.0 577.4,980.2 580.9,992.8 C584.9,1007.0 589.7,1023.7 593.9,1038.2 C597.8,1051.7 601.5,1063.9 605.2,1077.1 C609.1,1090.9 612.6,1105.0 616.6,1119.3 C620.7,1134.2 625.0,1150.6 629.6,1164.7 C633.7,1177.4 638.2,1188.8 642.6,1200.4 C646.8,1211.5 650.1,1222.6 655.5,1232.9 C660.9,1243.2 667.8,1254.5 675.0,1262.1 C681.0,1268.4 688.0,1273.8 694.5,1276.7 C699.9,1279.1 705.1,1280.0 710.7,1279.9 C716.9,1279.7 723.8,1278.5 730.2,1275.0 C738.4,1270.5 749.4,1257.1 754.2,1252.1 C756.4,1249.8 756.9,1249.0 758.9,1246.8 C762.3,1243.0 768.3,1236.5 772.6,1231.2 C776.8,1226.1 780.6,1220.9 784.3,1215.7 C787.9,1210.6 791.0,1205.3 794.5,1200.1 C798.0,1194.9 802.4,1189.9 805.3,1184.5 C808.0,1179.4 809.6,1174.1 811.5,1168.9 C813.4,1163.8 814.4,1158.5 816.6,1153.4 C818.9,1148.1 822.6,1143.2 824.9,1137.8 C827.2,1132.4 828.8,1126.6 830.6,1121.2 C832.4,1115.9 833.6,1110.8 835.8,1105.7 C838.1,1100.4 842.0,1095.4 844.4,1090.1 C846.7,1085.0 848.1,1079.7 850.0,1074.5 C851.8,1069.3 853.2,1064.0 855.5,1058.9 C857.9,1053.6 861.5,1048.7 864.0,1043.4 C866.5,1038.2 868.1,1032.5 870.5,1027.5 C872.7,1022.9 875.4,1018.8 877.6,1014.4 C879.7,1010.1 881.2,1005.7 883.5,1001.4 C885.8,997.0 888.7,992.7 891.5,988.4 C894.3,984.0 897.7,979.8 900.1,975.4 C902.4,971.2 903.6,965.8 905.8,962.4 C907.5,959.7 909.2,957.6 911.6,956.0 C914.3,954.2 918.2,952.3 921.4,952.4 C924.5,952.5 928.3,954.1 930.4,956.2 C932.4,958.2 932.5,962.0 933.7,964.6 C934.8,967.0 936.4,968.4 937.1,971.4 C938.3,976.5 935.6,988.2 937.1,993.3 C938.0,996.3 940.4,997.0 941.3,1000.0 C942.8,1005.1 939.8,1016.9 941.3,1022.0 C942.2,1025.1 944.1,1028.6 945.6,1028.7 C947.2,1028.8 948.6,1022.4 950.6,1022.0 C952.7,1021.6 956.6,1024.2 958.2,1027.0 C960.6,1031.2 957.2,1043.6 959.1,1047.3 C960.1,1049.2 962.3,1048.6 963.3,1050.6 C965.7,1055.4 962.0,1074.4 964.1,1081.0 C965.2,1084.6 967.3,1088.1 969.2,1088.6 C970.7,1089.0 972.9,1087.5 974.2,1086.1 C975.9,1084.3 976.7,1080.9 977.6,1077.6 C978.8,1073.3 979.5,1067.2 980.1,1062.5 C980.6,1058.3 979.8,1053.9 981.0,1050.6 C982.0,1047.9 984.6,1046.5 986.0,1043.9 C987.5,1041.0 987.8,1036.5 989.4,1033.8 C990.8,1031.6 993.2,1030.7 994.5,1028.7 C995.8,1026.7 995.7,1023.9 997.0,1022.0 C998.4,1020.0 1001.6,1019.4 1002.9,1016.9 C1004.7,1013.4 1003.4,1005.7 1004.6,1001.7 C1005.4,998.9 1007.2,997.7 1008.0,995.0 C1009.1,991.4 1008.0,984.3 1009.7,981.5 C1010.9,979.6 1013.5,980.0 1014.7,978.1 C1016.4,975.3 1014.8,967.8 1016.4,964.6 C1017.6,962.2 1020.3,961.9 1021.5,959.5 C1023.2,956.0 1021.2,947.9 1023.2,944.4 C1024.7,941.8 1027.6,941.3 1029.9,939.3 C1032.6,936.9 1035.1,933.7 1038.3,930.9 C1042.2,927.5 1046.8,923.5 1051.8,920.7 C1056.9,917.8 1063.0,916.0 1068.7,914.0 C1074.3,912.1 1079.4,910.9 1085.6,908.9 C1093.2,906.5 1102.3,903.0 1110.9,900.5 C1119.7,898.0 1128.2,896.3 1138.0,894.0 C1149.6,891.3 1162.3,887.8 1175.9,885.2 C1191.5,882.2 1210.8,879.8 1226.5,877.6 C1240.1,875.7 1250.9,873.6 1264.5,872.5 C1280.1,871.3 1299.5,870.9 1315.1,871.2 C1328.7,871.5 1340.4,872.1 1353.0,873.8 C1365.7,875.5 1377.4,879.7 1391.0,881.4 C1406.6,883.3 1426.0,884.8 1441.6,883.9 C1455.2,883.1 1466.9,879.3 1479.6,877.6 C1492.2,875.9 1503.9,874.8 1517.5,873.8 C1533.1,872.6 1554.1,871.2 1568.1,871.2 C1578.0,871.2 1585.1,871.1 1593.4,872.5 C1601.9,874.0 1610.9,876.8 1618.7,880.1 C1626.0,883.2 1633.4,886.6 1639.0,891.5 C1644.3,896.1 1648.1,903.4 1651.8,908.2 C1654.6,911.8 1657.4,914.0 1659.3,917.6 L1663.1,930.8 L1664.9,945.9 L1670.6,953.4 L1670.6,985.4 L1676.2,992.9 L1676.2,1034.4 L1680.0,1036.2 L1683.8,1011.8 L1685.6,996.7 L1693.2,991.1 L1698.8,996.7 L1699.8,1021.2 L1704.5,1024.9 L1708.2,1015.5 L1710.1,983.5 L1713.9,974.1 L1714.8,942.1 L1719.5,938.4 L1727.1,938.4 L1734.6,940.2 L1736.5,921.4 L1742.1,916.7 L1749.6,921.4 L1751.5,944.0 L1757.2,951.5 L1759.1,972.2 L1764.7,972.2 L1766.6,962.8 L1772.2,966.6 L1774.1,992.9 L1779.8,996.7 L1781.6,1023.1 L1785.4,1030.6 L1792.9,1030.6 L1796.7,1024.9 L1802.4,1026.8 L1806.1,1036.2 L1811.7,1037.1 L1823.4,1039.4 L1825.7,1072.1 L1832.7,1081.4 L1838.5,1093.1 L1839.7,1065.1 L1846.7,1053.4 L1846.7,1044.1 L1860.7,1037.1 L1865.4,1027.7 L1877.1,1037.1 L1879.4,1018.4 L1886.4,1009.0 L1893.4,1011.4 L1895.7,1023.1 L1905.1,1023.1 L1909.8,1011.4 L1914.4,999.7 L1919.1,990.4 L1923.8,1002.0 L1926.1,1037.1 L1933.1,1030.1 L1940.1,1020.7 L1941.3,1076.8 L1947.1,1100.1 L1948.3,1158.5 L1953.0,1177.2 L1954.1,1212.2 L1961.1,1207.5 L1963.5,1170.2 L1968.1,1167.8 L1977.5,1179.5 L1982.2,1198.2 L1986.8,1205.2 L1989.2,1226.2 L1993.8,1233.2 L1996.2,1263.6 L2000.8,1263.6 L2003.2,1230.9 L2010.2,1244.9 L2011.3,1272.9 L2017.2,1287.0 L2021.9,1303.3 L2028.9,1301.0 L2030.0,1263.6 L2035.9,1251.9 L2035.9,1216.9 L2042.9,1209.9 L2044.0,1170.2 L2045.2,1123.5 L2047.5,1076.8 L2049.9,1030.1 L2052.1,1011.5 L2058.0,967.6 L2063.8,953.0 C2065.2,953.1 2065.8,962.0 2066.7,967.6 C2067.9,975.1 2067.4,993.4 2069.7,993.9 C2071.1,994.2 2073.7,989.5 2075.5,985.2 C2079.2,976.0 2081.0,952.1 2084.3,938.4 C2087.0,927.4 2089.2,913.7 2093.0,909.2 C2094.8,907.1 2097.3,905.8 2098.9,906.3 C2100.6,906.8 2101.2,912.3 2102.7,912.5 C2104.2,912.7 2106.3,907.2 2107.7,907.5 C2109.2,907.8 2110.0,912.2 2111.1,915.9 C2113.0,922.5 2114.9,935.8 2116.4,944.3 C2117.6,951.2 2117.6,958.6 2119.5,963.1 C2120.8,966.1 2123.0,970.1 2124.6,969.9 C2126.5,969.7 2128.1,962.4 2129.7,958.1 C2131.5,953.0 2132.9,946.5 2134.7,941.2 C2136.3,936.4 2137.7,931.0 2139.8,927.7 C2141.3,925.4 2143.3,922.5 2144.8,922.7 C2146.7,923.0 2148.5,929.0 2149.9,932.8 C2151.5,937.3 2150.9,946.9 2153.3,948.0 C2154.9,948.8 2157.9,944.3 2160.0,944.6 C2162.4,945.0 2165.1,948.5 2166.8,951.3 C2168.7,954.5 2169.0,958.3 2170.1,963.1 C2171.8,970.2 2172.2,985.6 2175.2,990.1 C2176.6,992.2 2179.0,994.1 2180.3,993.5 C2182.6,992.5 2181.8,979.5 2183.7,975.0 C2185.0,972.0 2187.1,968.1 2188.7,968.2 C2190.5,968.4 2192.5,974.4 2193.8,978.3 C2195.5,983.1 2196.0,989.2 2197.1,995.2 C2198.4,1002.1 2198.5,1016.9 2201.1,1017.3 C2203.7,1017.8 2208.1,998.3 2212.8,996.9 C2216.3,995.8 2220.9,999.8 2224.5,1002.7 C2228.8,1006.2 2232.1,1015.3 2236.2,1017.3 C2239.0,1018.7 2242.5,1015.7 2245.0,1017.3 C2248.8,1019.6 2250.9,1028.5 2253.7,1034.8 C2256.8,1042.0 2259.6,1050.4 2262.5,1058.2" stroke="#DEC016" stroke-width="9.0" stroke-linejoin="round" stroke-linecap="butt" fill="none"/>
<circle cx="2264.5" cy="213.1" r="4.5" fill="#433843"/>
<circle cx="2261.8" cy="494.9" r="4.5" fill="#2F4FA4"/>
<circle cx="2263.4" cy="843.5" r="4.5" fill="#DD1C1D"/>
<circle cx="2262.5" cy="1058.2" r="4.5" fill="#DEC016"/>
<path d="M710.5,398.4 L747.2,433 M975,272 L996.5,302.4 M1763.5,202.6 L1760.6,317.4 M1655.1,371 L1674.6,396.2 M1732.5,378 L1703.3,404 M1846.5,391.5 L1861.2,415.2 M1935.7,380.9 L1956.5,398.4 M2000.7,347 L2037.8,337.7 M713.7,727 L739.9,754.7 M928.2,562.3 L964.7,530.5 M1687,477.7 L1704.1,511.7 M1825.3,500.8 L1841.7,541.7 M1933.5,669.2 L1958.5,631.4 M1993.5,749.9 L2033.5,737.8 M715,1056.5 L756.5,1085.3 M976.5,905.3 L1012.5,869.3 M1639,820.6 L1676.9,785.2 M1834.4,872.6 L1854.4,892.6 M1927.5,974.3 L1949.5,1016 M2024.7,1071.8 L2094.8,1081.8 M701,1283.2 L744.8,1314 M972.5,1093.7 L1010.5,1092 M1624.5,1059.8 L1670.6,1032.5 M1708.2,1020.2 L1748.7,1037.2 M1814.4,1122.5 L1839.5,1091.9 M1913.3,1186.5 L1957.6,1218.1 M2036,1302.1 L2081.4,1296.3" stroke="#E01B1B" stroke-width="3.4" fill="none"/>
<g font-size="36" fill="#000">
<text x="701.5" y="462.5">3406</text>
<text x="999.0" y="329.0">2918</text>
<text x="1723.7" y="194.4">1504</text>
<text x="1563.1" y="367.6">1655</text>
<text x="1716.9" y="380.7">1608</text>
<text x="1816.3" y="440.5">1363</text>
<text x="1934.9" y="423.6">1259</text>
<text x="2041.7" y="351.3">1090</text>
<text x="694.2" y="786.0">3394</text>
<text x="869.8" y="597.9">2927</text>
<text x="1662.0" y="538.3">1639</text>
<text x="1795.6" y="561.5">1385</text>
<text x="1849.6" y="693.5">1157</text>
<text x="1920.3" y="761.3">1034</text>
<text x="722.8" y="1120.3">3375</text>
<text x="1009.0" y="874.1">2929</text>
<text x="1583.3" y="837.1">1653</text>
<text x="1806.2" y="916.0">1367</text>
<text x="1840.2" y="983.9">1155</text>
<text x="2094.5" y="1096.3">1032</text>
<text x="726.0" y="1338.3">3406</text>
<text x="1010.5" y="1107.2">2927</text>
<text x="1534.4" y="1086.1">1655</text>
<text x="1712.3" y="1066.4">1608</text>
<text x="1760.3" y="1157.6">1365</text>
<text x="1832.5" y="1202.9">1155</text>
<text x="2084.1" y="1309.4">1032</text>
</g>
<defs>
<clipPath id="hb0"><polygon points="949.2,53.2 995.8,53.2 994.8,1358 949.2,1358"/></clipPath>
<clipPath id="hb1"><polygon points="1658.7,53.2 1716.8,53.2 1718.8,1358 1659.8,1358"/></clipPath>
<clipPath id="hb2"><polygon points="1937.2,53.2 2065.3,53.2 2064.8,1358 1938.7,1358"/></clipPath>
</defs>
<path clip-path="url(#hb0)" d="M-359.1,1360 L949.7,51.2 M-340.5,1360 L968.3,51.2 M-321.9,1360 L986.9,51.2 M-303.2,1360 L1005.6,51.2 M-284.6,1360 L1024.2,51.2 M-265.9,1360 L1042.9,51.2 M-247.3,1360 L1061.5,51.2 M-228.7,1360 L1080.1,51.2 M-210.0,1360 L1098.8,51.2 M-191.4,1360 L1117.4,51.2 M-172.7,1360 L1136.1,51.2 M-154.1,1360 L1154.7,51.2 M-135.5,1360 L1173.3,51.2 M-116.8,1360 L1192.0,51.2 M-98.2,1360 L1210.6,51.2 M-79.5,1360 L1229.3,51.2 M-60.9,1360 L1247.9,51.2 M-42.3,1360 L1266.5,51.2 M-23.6,1360 L1285.2,51.2 M-5.0,1360 L1303.8,51.2 M13.7,1360 L1322.5,51.2 M32.3,1360 L1341.1,51.2 M50.9,1360 L1359.7,51.2 M69.6,1360 L1378.4,51.2 M88.2,1360 L1397.0,51.2 M106.9,1360 L1415.7,51.2 M125.5,1360 L1434.3,51.2 M144.1,1360 L1452.9,51.2 M162.8,1360 L1471.6,51.2 M181.4,1360 L1490.2,51.2 M200.1,1360 L1508.9,51.2 M218.7,1360 L1527.5,51.2 M237.3,1360 L1546.1,51.2 M256.0,1360 L1564.8,51.2 M274.6,1360 L1583.4,51.2 M293.3,1360 L1602.1,51.2 M311.9,1360 L1620.7,51.2 M330.5,1360 L1639.3,51.2 M349.2,1360 L1658.0,51.2 M367.8,1360 L1676.6,51.2 M386.5,1360 L1695.3,51.2 M405.1,1360 L1713.9,51.2 M423.7,1360 L1732.5,51.2 M442.4,1360 L1751.2,51.2 M461.0,1360 L1769.8,51.2 M479.7,1360 L1788.5,51.2 M498.3,1360 L1807.1,51.2 M516.9,1360 L1825.7,51.2 M535.6,1360 L1844.4,51.2 M554.2,1360 L1863.0,51.2 M572.9,1360 L1881.7,51.2 M591.5,1360 L1900.3,51.2 M610.1,1360 L1918.9,51.2 M628.8,1360 L1937.6,51.2 M647.4,1360 L1956.2,51.2 M666.1,1360 L1974.9,51.2 M684.7,1360 L1993.5,51.2 M703.3,1360 L2012.1,51.2 M722.0,1360 L2030.8,51.2 M740.6,1360 L2049.4,51.2 M759.3,1360 L2068.1,51.2 M777.9,1360 L2086.7,51.2 M796.5,1360 L2105.3,51.2 M815.2,1360 L2124.0,51.2 M833.8,1360 L2142.6,51.2 M852.5,1360 L2161.3,51.2 M871.1,1360 L2179.9,51.2 M889.7,1360 L2198.5,51.2 M908.4,1360 L2217.2,51.2 M927.0,1360 L2235.8,51.2 M945.7,1360 L2254.5,51.2 M964.3,1360 L2273.1,51.2 M982.9,1360 L2291.7,51.2 M1001.6,1360 L2310.4,51.2" stroke="#BFBFBF" stroke-width="1.4" fill="none"/>
<path clip-path="url(#hb1)" d="M333.5,1360 L1642.3,51.2 M352.2,1360 L1661.0,51.2 M370.8,1360 L1679.6,51.2 M389.4,1360 L1698.2,51.2 M408.1,1360 L1716.9,51.2 M426.7,1360 L1735.5,51.2 M445.4,1360 L1754.2,51.2 M464.0,1360 L1772.8,51.2 M482.6,1360 L1791.4,51.2 M501.3,1360 L1810.1,51.2 M519.9,1360 L1828.7,51.2 M538.6,1360 L1847.4,51.2 M557.2,1360 L1866.0,51.2 M575.8,1360 L1884.6,51.2 M594.5,1360 L1903.3,51.2 M613.1,1360 L1921.9,51.2 M631.8,1360 L1940.6,51.2 M650.4,1360 L1959.2,51.2 M669.0,1360 L1977.8,51.2 M687.7,1360 L1996.5,51.2 M706.3,1360 L2015.1,51.2 M725.0,1360 L2033.8,51.2 M743.6,1360 L2052.4,51.2 M762.2,1360 L2071.0,51.2 M780.9,1360 L2089.7,51.2 M799.5,1360 L2108.3,51.2 M818.2,1360 L2127.0,51.2 M836.8,1360 L2145.6,51.2 M855.4,1360 L2164.2,51.2 M874.1,1360 L2182.9,51.2 M892.7,1360 L2201.5,51.2 M911.4,1360 L2220.2,51.2 M930.0,1360 L2238.8,51.2 M948.6,1360 L2257.4,51.2 M967.3,1360 L2276.1,51.2 M985.9,1360 L2294.7,51.2 M1004.6,1360 L2313.4,51.2 M1023.2,1360 L2332.0,51.2 M1041.8,1360 L2350.6,51.2 M1060.5,1360 L2369.3,51.2 M1079.1,1360 L2387.9,51.2 M1097.8,1360 L2406.6,51.2 M1116.4,1360 L2425.2,51.2 M1135.0,1360 L2443.8,51.2 M1153.7,1360 L2462.5,51.2 M1172.3,1360 L2481.1,51.2 M1191.0,1360 L2499.8,51.2 M1209.6,1360 L2518.4,51.2 M1228.2,1360 L2537.0,51.2 M1246.9,1360 L2555.7,51.2 M1265.5,1360 L2574.3,51.2 M1284.2,1360 L2593.0,51.2 M1302.8,1360 L2611.6,51.2 M1321.4,1360 L2630.2,51.2 M1340.1,1360 L2648.9,51.2 M1358.7,1360 L2667.5,51.2 M1377.4,1360 L2686.2,51.2 M1396.0,1360 L2704.8,51.2 M1414.6,1360 L2723.4,51.2 M1433.3,1360 L2742.1,51.2 M1451.9,1360 L2760.7,51.2 M1470.6,1360 L2779.4,51.2 M1489.2,1360 L2798.0,51.2 M1507.8,1360 L2816.6,51.2 M1526.5,1360 L2835.3,51.2 M1545.1,1360 L2853.9,51.2 M1563.8,1360 L2872.6,51.2 M1582.4,1360 L2891.2,51.2 M1601.0,1360 L2909.8,51.2 M1619.7,1360 L2928.5,51.2 M1638.3,1360 L2947.1,51.2 M1657.0,1360 L2965.8,51.2 M1675.6,1360 L2984.4,51.2 M1694.2,1360 L3003.0,51.2 M1712.9,1360 L3021.7,51.2 M1731.5,1360 L3040.3,51.2" stroke="#BFBFBF" stroke-width="1.4" fill="none"/>
<path clip-path="url(#hb2)" d="M613.4,1360 L1922.2,51.2 M632.1,1360 L1940.9,51.2 M650.7,1360 L1959.5,51.2 M669.3,1360 L1978.1,51.2 M688.0,1360 L1996.8,51.2 M706.6,1360 L2015.4,51.2 M725.3,1360 L2034.1,51.2 M743.9,1360 L2052.7,51.2 M762.5,1360 L2071.3,51.2 M781.2,1360 L2090.0,51.2 M799.8,1360 L2108.6,51.2 M818.5,1360 L2127.3,51.2 M837.1,1360 L2145.9,51.2 M855.7,1360 L2164.5,51.2 M874.4,1360 L2183.2,51.2 M893.0,1360 L2201.8,51.2 M911.7,1360 L2220.5,51.2 M930.3,1360 L2239.1,51.2 M948.9,1360 L2257.7,51.2 M967.6,1360 L2276.4,51.2 M986.2,1360 L2295.0,51.2 M1004.9,1360 L2313.7,51.2 M1023.5,1360 L2332.3,51.2 M1042.1,1360 L2350.9,51.2 M1060.8,1360 L2369.6,51.2 M1079.4,1360 L2388.2,51.2 M1098.1,1360 L2406.9,51.2 M1116.7,1360 L2425.5,51.2 M1135.3,1360 L2444.1,51.2 M1154.0,1360 L2462.8,51.2 M1172.6,1360 L2481.4,51.2 M1191.3,1360 L2500.1,51.2 M1209.9,1360 L2518.7,51.2 M1228.5,1360 L2537.3,51.2 M1247.2,1360 L2556.0,51.2 M1265.8,1360 L2574.6,51.2 M1284.5,1360 L2593.3,51.2 M1303.1,1360 L2611.9,51.2 M1321.7,1360 L2630.5,51.2 M1340.4,1360 L2649.2,51.2 M1359.0,1360 L2667.8,51.2 M1377.7,1360 L2686.5,51.2 M1396.3,1360 L2705.1,51.2 M1414.9,1360 L2723.7,51.2 M1433.6,1360 L2742.4,51.2 M1452.2,1360 L2761.0,51.2 M1470.9,1360 L2779.7,51.2 M1489.5,1360 L2798.3,51.2 M1508.1,1360 L2816.9,51.2 M1526.8,1360 L2835.6,51.2 M1545.4,1360 L2854.2,51.2 M1564.1,1360 L2872.9,51.2 M1582.7,1360 L2891.5,51.2 M1601.3,1360 L2910.1,51.2 M1620.0,1360 L2928.8,51.2 M1638.6,1360 L2947.4,51.2 M1657.3,1360 L2966.1,51.2 M1675.9,1360 L2984.7,51.2 M1694.5,1360 L3003.3,51.2 M1713.2,1360 L3022.0,51.2 M1731.8,1360 L3040.6,51.2 M1750.5,1360 L3059.3,51.2 M1769.1,1360 L3077.9,51.2 M1787.7,1360 L3096.5,51.2 M1806.4,1360 L3115.2,51.2 M1825.0,1360 L3133.8,51.2 M1843.7,1360 L3152.5,51.2 M1862.3,1360 L3171.1,51.2 M1880.9,1360 L3189.7,51.2 M1899.6,1360 L3208.4,51.2 M1918.2,1360 L3227.0,51.2 M1936.9,1360 L3245.7,51.2 M1955.5,1360 L3264.3,51.2 M1974.1,1360 L3282.9,51.2 M1992.8,1360 L3301.6,51.2 M2011.4,1360 L3320.2,51.2 M2030.1,1360 L3338.9,51.2 M2048.7,1360 L3357.5,51.2 M2067.3,1360 L3376.1,51.2" stroke="#BFBFBF" stroke-width="1.4" fill="none"/>
<path d="M1641,252 L1641,216.7 L1676.7,216.7 M1730.3,216.7 L1765,216.7 M1817.6,216.7 L1853.3,216.7 M1906.9,216.7 L1941.6,216.7 M1995.2,216.7 L2029.8,216.7 M2084.3,217.3 L2098.3,237.6 M2098.2,292.5 L2098.2,325.8 M2071.5,390.5 L2099.5,379 M1642,389.7 L1665.2,389.7 M1718.8,389.7 L1753.5,389.7 M1807,389.7 L1841.7,389.7 M1895.3,389.7 L1930,389.7 M1983.6,389.7 L2018.3,389.7 M1641,306.7 L1641,339.2" stroke="#969696" stroke-width="11" stroke-linecap="round" stroke-linejoin="round" fill="none"/>
<line x1="945" y1="55.00" x2="945" y2="1351.90" stroke="#000" stroke-width="8" stroke-linecap="round" stroke-dasharray="0.8 12.986"/>
<line x1="1000" y1="54.60" x2="999" y2="1351.90" stroke="#000" stroke-width="8" stroke-linecap="round" stroke-dasharray="0.8 12.990"/>
<line x1="1654.5" y1="55.50" x2="1655.6" y2="1352.90" stroke="#000" stroke-width="8" stroke-linecap="round" stroke-dasharray="0.8 12.991"/>
<line x1="1721" y1="54.00" x2="1723" y2="1351.00" stroke="#000" stroke-width="8" stroke-linecap="round" stroke-dasharray="0.8 12.987"/>
<line x1="1933" y1="56.80" x2="1934.5" y2="1354.10" stroke="#000" stroke-width="8" stroke-linecap="round" stroke-dasharray="0.8 12.990"/>
<line x1="2069.5" y1="57.00" x2="2069" y2="1353.70" stroke="#000" stroke-width="8" stroke-linecap="round" stroke-dasharray="0.8 12.984"/>
<line x1="372.8" y1="1360.9" x2="2321.8" y2="1360.9" stroke="#000" stroke-width="6"/>
<line x1="375.5" y1="1358" x2="375.5" y2="1383.8" stroke="#000" stroke-width="5.2"/>
<text x="375.5" y="1425" font-size="38" font-weight="bold" text-anchor="middle">4000</text>
<line x1="514.3" y1="1358" x2="514.3" y2="1372.5" stroke="#000" stroke-width="5.2"/>
<line x1="653.1" y1="1358" x2="653.1" y2="1383.8" stroke="#000" stroke-width="5.2"/>
<text x="653.1" y="1425" font-size="38" font-weight="bold" text-anchor="middle">3500</text>
<line x1="792.0" y1="1358" x2="792.0" y2="1372.5" stroke="#000" stroke-width="5.2"/>
<line x1="930.8" y1="1358" x2="930.8" y2="1383.8" stroke="#000" stroke-width="5.2"/>
<text x="930.8" y="1425" font-size="38" font-weight="bold" text-anchor="middle">3000</text>
<line x1="1069.6" y1="1358" x2="1069.6" y2="1372.5" stroke="#000" stroke-width="5.2"/>
<line x1="1208.4" y1="1358" x2="1208.4" y2="1383.8" stroke="#000" stroke-width="5.2"/>
<text x="1208.4" y="1425" font-size="38" font-weight="bold" text-anchor="middle">2500</text>
<line x1="1347.3" y1="1358" x2="1347.3" y2="1372.5" stroke="#000" stroke-width="5.2"/>
<line x1="1486.1" y1="1358" x2="1486.1" y2="1383.8" stroke="#000" stroke-width="5.2"/>
<text x="1486.1" y="1425" font-size="38" font-weight="bold" text-anchor="middle">2000</text>
<line x1="1624.9" y1="1358" x2="1624.9" y2="1372.5" stroke="#000" stroke-width="5.2"/>
<line x1="1763.7" y1="1358" x2="1763.7" y2="1383.8" stroke="#000" stroke-width="5.2"/>
<text x="1763.7" y="1425" font-size="38" font-weight="bold" text-anchor="middle">1500</text>
<line x1="1902.5" y1="1358" x2="1902.5" y2="1372.5" stroke="#000" stroke-width="5.2"/>
<line x1="2041.4" y1="1358" x2="2041.4" y2="1383.8" stroke="#000" stroke-width="5.2"/>
<text x="2041.4" y="1425" font-size="38" font-weight="bold" text-anchor="middle">1000</text>
<line x1="2180.2" y1="1358" x2="2180.2" y2="1372.5" stroke="#000" stroke-width="5.2"/>
<line x1="2319.0" y1="1358" x2="2319.0" y2="1383.8" stroke="#000" stroke-width="5.2"/>
<text x="2319.0" y="1425" font-size="38" font-weight="bold" text-anchor="middle">500</text>
<text x="1119.5" y="1515" font-size="52.5" font-weight="bold">Wavelength (cm<tspan x="1521" y="1489" font-size="31" font-weight="normal">&#8722;1</tspan><tspan x="1558.5" y="1515">)</tspan></text>
<g font-weight="bold" font-size="44" text-anchor="end">
<text x="366" y="127.8" fill="#000">Hyp</text>
<text x="369" y="397.1" fill="#2F4FA4">2H-&#946;-CD</text>
<text x="377.5" y="570.9" fill="#DD1C1D">Hyp-2H-&#946;-CD</text>
<text x="355" y="626.2" fill="#DD1C1D">complex</text>
<text x="379.2" y="865.7" fill="#DEC016">Hyp/ 2H-&#946;-CD</text>
<text x="355.5" y="920.9" fill="#DEC016">physical mixture</text>
</g>
</svg></body></html>
